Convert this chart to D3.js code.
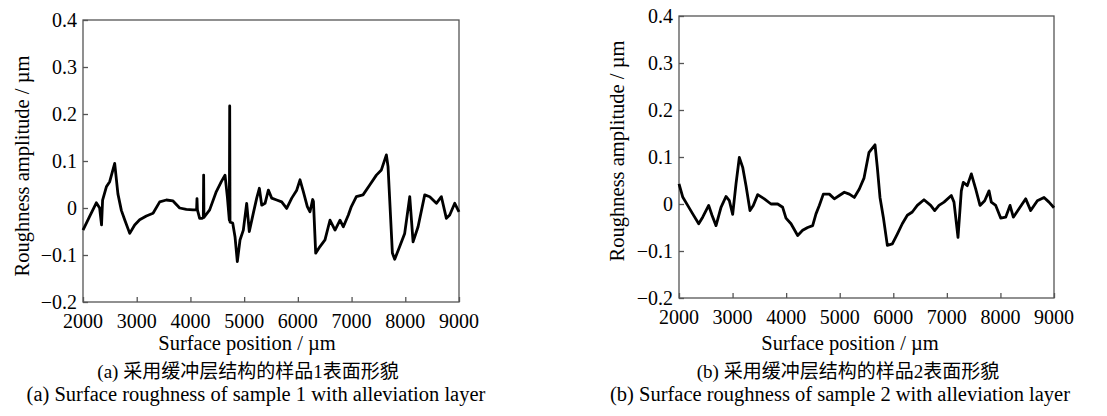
<!DOCTYPE html>
<html>
<head>
<meta charset="utf-8">
<script src="https://cdn.jsdelivr.net/npm/d3@7"></script>
<style>
  body { margin: 0; background: #fff; }
</style>
</head>
<body>
<div id="chart"></div>
<script>
// sample 1 (a): surface position (µm) and roughness amplitude (µm)
const posA = [2000, 2124, 2248, 2310, 2345, 2365, 2435, 2497, 2590, 2650, 2714, 2776, 2870, 2962, 3055, 3180, 3304,
  3428, 3552, 3676, 3800, 3924, 4048, 4115, 4122, 4130, 4172, 4222, 4240, 4246, 4252, 4265, 4358, 4482, 4575, 4644,
  4687, 4724, 4731, 4737, 4787, 4830, 4873, 4923, 4985, 5047, 5096, 5171, 5234, 5283, 5327, 5389, 5451, 5513, 5606,
  5699, 5792, 5886, 5979, 6040, 6102, 6176, 6226, 6276, 6290, 6332, 6412, 6505, 6598, 6692, 6785, 6847, 6940, 6996,
  7089, 7213, 7338, 7462, 7555, 7648, 7679, 7760, 7803, 7896, 7989, 8083, 8145, 8238, 8362, 8455, 8579, 8672, 8765,
  8827, 8921, 9000];
const ampA = [-0.047, -0.018, 0.011, 0, -0.036, 0.017, 0.045, 0.056, 0.095, 0.03, -0.005, -0.025, -0.054, -0.036, -0.025,
  -0.017, -0.011, 0.013, 0.017, 0.015, 0, -0.003, -0.004, -0.004, 0.02, -0.004, -0.022, -0.022, -0.02, 0.07, -0.02,
  -0.018, -0.004, 0.035, 0.056, 0.070, 0.024, -0.026, 0.217, -0.03, -0.032, -0.061, -0.114, -0.068, -0.047, 0.010,
  -0.050, -0.011, 0.021, 0.042, 0.006, 0.010, 0.038, 0.021, 0.017, 0.013, -0.001, 0.021, 0.038, 0.060, 0.035, 0.003,
  -0.008, 0.018, 0.014, -0.096, -0.082, -0.068, -0.026, -0.047, -0.026, -0.040, -0.015, 0.003, 0.024, 0.028, 0.049,
  0.07, 0.081, 0.113, 0.088, -0.096, -0.109, -0.082, -0.054, 0.024, -0.072, -0.04, 0.028, 0.024, 0.01, 0.024, -0.022,
  -0.015, 0.01, -0.008];

// sample 2 (b)
const posB = [2000, 2069, 2162, 2256, 2368, 2442, 2554, 2616, 2691, 2784, 2877, 2940, 3002, 3064, 3126, 3189, 3251,
  3325, 3387, 3469, 3593, 3717, 3842, 3935, 3997, 4091, 4215, 4308, 4402, 4495, 4557, 4619, 4694, 4806, 4899, 4993,
  5086, 5179, 5272, 5366, 5453, 5547, 5659, 5702, 5752, 5814, 5889, 5982, 6075, 6168, 6262, 6355, 6448, 6573, 6698,
  6773, 6853, 6947, 7083, 7133, 7208, 7270, 7307, 7382, 7457, 7538, 7619, 7706, 7787, 7830, 7912, 8005, 8098, 8179,
  8241, 8347, 8472, 8565, 8689, 8814, 8907, 9000];
const ampB = [0.043, 0.015, -0.003, -0.021, -0.042, -0.028, -0.003, -0.024, -0.046, -0.007, 0.016, 0.007, -0.022, 0.043,
  0.099, 0.078, 0.039, -0.014, -0.003, 0.020, 0.011, 0, 0, -0.007, -0.030, -0.042, -0.067, -0.056, -0.050, -0.046,
  -0.021, -0.003, 0.021, 0.021, 0.011, 0.018, 0.025, 0.021, 0.014, 0.032, 0.055, 0.110, 0.126, 0.078, 0.014, -0.028,
  -0.088, -0.085, -0.064, -0.042, -0.024, -0.017, -0.003, 0.009, -0.003, -0.014, -0.003, 0.004, 0.018, 0.004, -0.071,
  0.028, 0.046, 0.039, 0.064, 0.032, -0.003, 0.007, 0.028, 0.004, -0.003, -0.030, -0.028, -0.003, -0.028, -0.010,
  0.011, -0.014, 0.007, 0.014, 0.004, -0.008];

const xTicks = [2000, 3000, 4000, 5000, 6000, 7000, 8000, 9000];
const yTicks = [-0.2, -0.1, 0, 0.1, 0.2, 0.3, 0.4];

const xTitle = "Surface position / µm";
const yTitle = "Roughness amplitude / µm";
const captionsCn = ["(a) 采用缓冲层结构的样品1表面形貌", "(b) 采用缓冲层结构的样品2表面形貌"];
const captionsEn = ["(a) Surface roughness of sample 1 with alleviation layer", "(b) Surface roughness of sample 2 with alleviation layer"];

const serif = "'Liberation Serif', 'Times New Roman', serif";
const cjk = "'Liberation Serif', 'Noto Sans CJK SC', serif";

const width = 1107, height = 416;
const svg = d3.select("#chart").append("svg")
  .attr("width", width)
  .attr("height", height);

function label(g, str, size, font) {
  return g.append("text")
    .style("font-family", font || serif)
    .style("font-size", size + "px")
    .attr("fill", "#000")
    .text(str);
}

function drawPanel(pos, amp, box, cap) {
  const x = d3.scaleLinear().domain([2000, 9000]).range([box.left, box.right]);
  const y = d3.scaleLinear().domain([-0.2, 0.4]).range([box.bottom, box.top]);
  const g = svg.append("g");

  // frame
  g.append("rect")
    .attr("x", box.left).attr("y", box.top)
    .attr("width", box.right - box.left).attr("height", box.bottom - box.top)
    .attr("fill", "none").attr("stroke", "#555").attr("stroke-width", 1.3);

  // ticks point inward
  const xAxis = g.append("g").attr("transform", `translate(0,${box.bottom})`)
    .call(d3.axisTop(x).tickValues(xTicks).tickSize(5).tickFormat(""));
  const yAxis = g.append("g").attr("transform", `translate(${box.left},0)`)
    .call(d3.axisRight(y).tickValues(yTicks).tickSize(5).tickFormat(""));
  [xAxis, yAxis].forEach(a => {
    a.select(".domain").remove();
    a.selectAll("line").attr("stroke", "#555").attr("stroke-width", 1.3);
  });

  xTicks.forEach(d => {
    label(g, d, 20).attr("x", x(d)).attr("y", box.bottom + 26).attr("text-anchor", "middle");
  });
  yTicks.forEach(d => {
    const s = d === 0 ? "0" : d3.format(".1f")(d).replace("-", "\u2212");
    label(g, s, 20).attr("x", box.left - 6).attr("y", y(d)).attr("dy", "0.35em").attr("text-anchor", "end");
  });

  const line = d3.line().x((d, i) => x(pos[i])).y(d => y(d));
  g.append("path").datum(amp)
    .attr("d", line).attr("fill", "none")
    .attr("stroke", "#000").attr("stroke-width", 2.8)
    .attr("stroke-linejoin", "round");

  label(g, yTitle, 20.5)
    .attr("transform", `translate(${box.ytx},${box.yty}) rotate(-90)`)
    .attr("text-anchor", "middle");
  label(g, xTitle, 20.5).attr("x", cap.tx).attr("y", 350).attr("text-anchor", "middle");
  label(g, cap.cn, 19, cjk).attr("x", cap.cx).attr("y", 378).attr("text-anchor", "middle");
  label(g, cap.en, 20.5).attr("x", cap.ex).attr("y", 401).attr("text-anchor", "middle");
}

drawPanel(posA, ampA, {left: 83, right: 459, top: 20, bottom: 302, ytx: 29, yty: 166},
  {tx: 247, cx: 248, ex: 256, cn: captionsCn[0], en: captionsEn[0]});
drawPanel(posB, ampB, {left: 679, right: 1054, top: 16, bottom: 298, ytx: 624, yty: 151},
  {tx: 850, cx: 848, ex: 840, cn: captionsCn[1], en: captionsEn[1]});
</script>
</body>
</html>
